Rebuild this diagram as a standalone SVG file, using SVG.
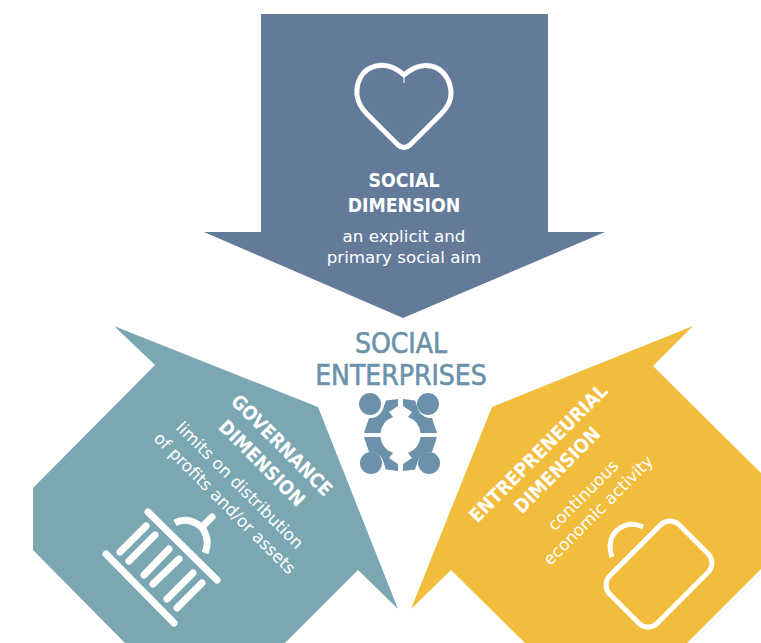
<svg xmlns="http://www.w3.org/2000/svg" xmlns:xlink="http://www.w3.org/1999/xlink" width="761" height="643" viewBox="0 0 761 643">
<style>
text{font-family:"Open Sans","DejaVu Sans",sans-serif;text-anchor:middle;fill:#fff}
.t{font-size:19.300px;font-weight:700;font-family:"DejaVu Sans",sans-serif;font-stretch:condensed}
.d{font-size:16.700px;font-family:"DejaVu Sans",sans-serif}
.c{font-size:28px;fill:#6c92ab;stroke:#6c92ab;stroke-width:.6px;font-family:"DejaVu Sans",sans-serif;font-stretch:condensed}
.i{fill:none;stroke:#fff;stroke-width:5;stroke-linecap:round}
.b{fill:none;stroke:#fff;stroke-width:7;stroke-linecap:round}
</style>
<defs><path id="q" d="M398 399L386 400.500L384 406A14 14 0 0 1 372 418L369 418L364 433L380.500 433A19.500 19.500 0 0 1 393 417L389 412L398 406Z"/></defs>
<rect width="761" height="643" fill="#fff"/>
<g id="social">
<path d="M261 14H548V232H605L403 318L204 232H261Z" fill="#647a99"/>
<path class="i" d="M404 75C394 66 384 64 376 66C362 69 356 82 357 95C358 103 362 109 367 114L398 145Q404 150 410 145L441 114C446 109 451 102 451 94C451 81 444 69 431 66C422 64 413 67 404 75Z"/>
<path d="M404 78V83" stroke="#fff" stroke-width="1"/>
<text class="t" x="404" y="187">SOCIAL</text>
<text class="t" x="404" y="212">DIMENSION</text>
<text class="d" x="404" y="242">an explicit and</text>
<text class="d" x="404" y="263">primary social aim</text>
</g>
<g id="governance">
<path d="M114 326L318 407L398 609L358 570L285 643H125L33 550V488L155 365Z" fill="#7ba7b2"/>
<text class="t" transform="translate(282 445) rotate(45)" y="7">GOVERNANCE</text>
<text class="t" transform="translate(262 463) rotate(45)" y="7">DIMENSION</text>
<text class="d" transform="translate(240 485) rotate(45)" y="6">limits on distribution</text>
<text class="d" transform="translate(225 503) rotate(45)" y="6">of profits and/or assets</text>
<path class="b" d="M148 512L217 580M106 554L174 623M120 552L146 526M129 561L155 535M144 575L169 549M153 584L179 559M167 599L193 573M177 608L202 583"/>
<path class="b" style="stroke-linecap:butt" d="M175 523C187 516 202 524 205 533C209 541 207 548 205 553"/>
<path class="b" d="M202 527L212 517"/>
</g>
<g id="entrepreneurial">
<path d="M693 326L653 366L761 473V569L687 643H525L451 570L411 609L492 407Z" fill="#f2bc3c"/>
<text class="t" transform="translate(538 453) rotate(-45)" y="7">ENTREPRENEURIAL</text>
<text class="t" transform="translate(557 470) rotate(-45)" y="7">DIMENSION</text>
<text class="d" transform="translate(583 495) rotate(-45)" y="6">continuous</text>
<text class="d" transform="translate(598 510) rotate(-45)" y="6">economic activity</text>
<rect class="i" x="-49" y="-33.500" width="98" height="67" rx="13" transform="translate(659 574) rotate(-45)"/>
<path class="i" style="stroke-linecap:butt" d="M643 527C630 521 619 526 613 535C609 542 610 551 612 557"/>
</g>
<g id="center">
<text class="c" x="401" y="353">SOCIAL</text>
<text class="c" x="401" y="385">ENTERPRISES</text>
<g fill="#6c92ab">
<circle cx="370" cy="404" r="11"/><circle cx="428" cy="404" r="11"/><circle cx="371" cy="463" r="11"/><circle cx="429" cy="463" r="11"/>
<use xlink:href="#q" href="#q"/>
<use xlink:href="#q" href="#q" transform="translate(801 0) scale(-1 1)"/>
<use xlink:href="#q" href="#q" transform="translate(0 870) scale(1 -1)"/>
<use xlink:href="#q" href="#q" transform="translate(801 870) scale(-1 -1)"/>
</g>
</g>
<g id="connectors"></g>
</svg>
